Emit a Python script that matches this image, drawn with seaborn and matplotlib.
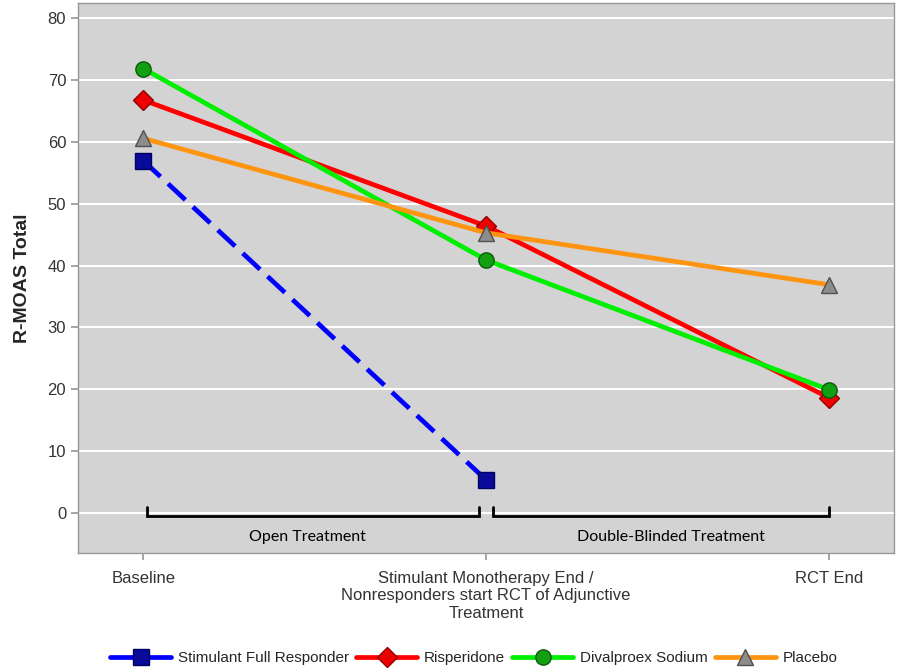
import matplotlib
matplotlib.use("Agg")
import matplotlib.pyplot as plt
from matplotlib.lines import Line2D
import seaborn as sns
import pandas as pd

# data
timepoints = ["Baseline",
              "Stimulant Monotherapy End /\nNonresponders start RCT of Adjunctive\nTreatment",
              "RCT End"]
x_pos = [0, 1, 2]
full_responder = [57.0, 5.3]
risperidone = [66.8, 46.4, 18.6]
divalproex = [71.9, 40.9, 19.9]
placebo = [60.6, 45.3, 36.9]

sns.set_theme(style="white")
plt.rcParams['font.family'] = ['Liberation Sans', 'DejaVu Sans']

fig = plt.figure(figsize=(9, 6.71), dpi=100)
ax = fig.add_axes([0.0867, 0.176, 0.907, 0.8195])
ax.set_facecolor("#d3d3d3")

series = [
    ("Stimulant Full Responder", full_responder, "#0000ff", "s", "#0a0a9a", "#000060", (5, 2.2)),
    ("Risperidone", risperidone, "#ff0000", "D", "#ee0000", "#900000", None),
    ("Divalproex Sodium", divalproex, "#00ee00", "o", "#12a012", "#0a5a0a", None),
    ("Placebo", placebo, "#ff9410", "^", "#8c8c8c", "#505050", None),
]

handles = []
for name, vals, col, mk, fc, ec, dash in series:
    df = pd.DataFrame({"x": x_pos[:len(vals)], "y": vals})
    kw = dict(color=col, lw=3.4, marker=mk, markersize=11 if mk != "D" else 10,
              markerfacecolor=fc, markeredgecolor=ec, markeredgewidth=1.0, zorder=3)
    sns.lineplot(data=df, x="x", y="y", ax=ax, **kw)
    if dash is not None:
        ax.lines[-1].set_dashes(dash)
    handles.append(Line2D([], [], color=col, lw=3.4, marker=mk,
                          markersize=11 if mk != "D" else 10,
                          markerfacecolor=fc, markeredgecolor=ec, markeredgewidth=1.0))

# brackets for treatment phases
for x0, x1 in [(0.01, 0.98), (1.02, 2.0)]:
    ax.plot([x0, x0, x1, x1], [1.0, -0.6, -0.6, 1.0], color="black", lw=2, zorder=4,
            solid_joinstyle="miter")
ax.text(0.48, -3.9, "Open Treatment", ha="center", va="center", fontsize=11.5,
        family=["Lato", "DejaVu Sans"], color="black")
ax.text(1.54, -3.9, "Double-Blinded Treatment", ha="center", va="center", fontsize=11.5,
        family=["Lato", "DejaVu Sans"], color="black")

ax.set_xlim(-0.19, 2.19)
ax.set_ylim(-6.5, 82.5)
ax.set_yticks(range(0, 81, 10))
ax.set_xticks(x_pos)
ax.set_xticklabels(timepoints, fontsize=12, color="#333333")
ax.tick_params(axis="y", labelsize=12, labelcolor="#333333", length=5, color="#999999",
               direction="out", left=True)
ax.tick_params(axis="x", length=5, color="#999999", direction="out", bottom=True, pad=8)
ax.yaxis.grid(True, color="white", lw=1.5)
ax.set_axisbelow(True)
for sp in ax.spines.values():
    sp.set_color("#999999")
    sp.set_linewidth(1)
ax.set_xlabel("")
ax.set_ylabel("R-MOAS Total", fontsize=14, fontweight="bold", labelpad=12)

ax.legend(handles, [s[0] for s in series], loc="center", bbox_to_anchor=(0.485, -0.191),
          ncol=4, frameon=False, handlelength=4.0, fontsize=11, columnspacing=0.45,
          handletextpad=0.45)

fig.savefig("out.png", dpi=100)
